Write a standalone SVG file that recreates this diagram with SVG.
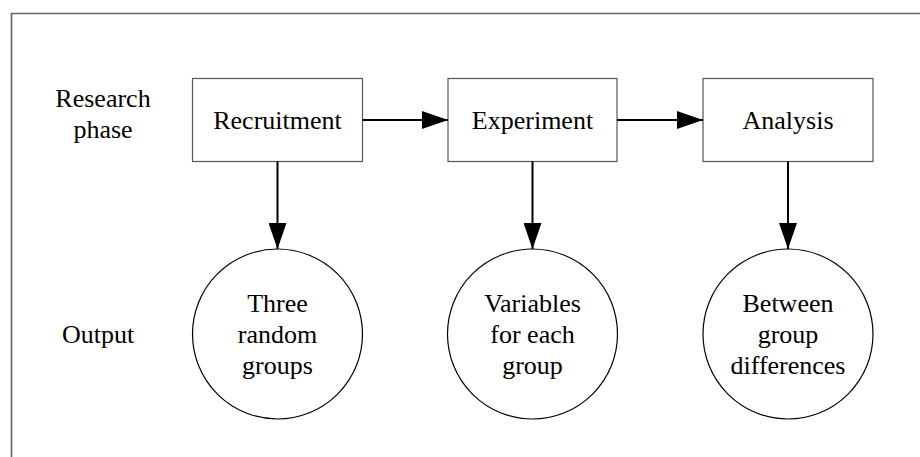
<svg xmlns="http://www.w3.org/2000/svg" width="920" height="457" viewBox="0 0 920 457">
<defs>
<style>
text{font-family:"Liberation Serif","Times New Roman",serif;font-size:26px;fill:#000;text-anchor:middle}
.box{fill:#fff;stroke:#555;stroke-width:1.2}
.circ{fill:#fff;stroke:#000;stroke-width:1.2}
.conn{stroke:#000;stroke-width:2;fill:none}
.frame{stroke:#666;stroke-width:1.6;fill:none}
</style>
<marker id="arr" markerUnits="userSpaceOnUse" markerWidth="26" markerHeight="18" viewBox="0 0 26 18" refX="26" refY="9" orient="auto">
<polygon points="0,0 26,9 0,18" fill="#000"/>
</marker>
</defs>
<rect width="920" height="457" fill="#fff"/>
<path class="frame" d="M11.5,457 V13.5 H920"/>
<g id="labels">
<text x="103" y="107">Research</text>
<text x="103" y="138">phase</text>
<text x="98" y="343">Output</text>
</g>
<g id="recruitment"><rect class="box" x="192.5" y="78.5" width="170" height="83"/><text x="277.5" y="129">Recruitment</text></g>
<g id="experiment"><rect class="box" x="448" y="78.5" width="169" height="83"/><text x="532.5" y="129">Experiment</text></g>
<g id="analysis"><rect class="box" x="703" y="78.5" width="170" height="83"/><text x="788" y="129">Analysis</text></g>
<g id="out1"><circle class="circ" cx="277.5" cy="334" r="85"/><text x="277.5" y="312">Three</text><text x="277.5" y="343">random</text><text x="277.5" y="374">groups</text></g>
<g id="out2"><circle class="circ" cx="532.5" cy="334" r="85"/><text x="532.5" y="312">Variables</text><text x="532.5" y="343">for each</text><text x="532.5" y="374">group</text></g>
<g id="out3"><circle class="circ" cx="788" cy="334" r="85"/><text x="788" y="312">Between</text><text x="788" y="343">group</text><text x="788" y="374">differences</text></g>
<g id="connectors">
<line class="conn" x1="362.5" y1="120" x2="448" y2="120" marker-end="url(#arr)"/>
<line class="conn" x1="617" y1="120" x2="703" y2="120" marker-end="url(#arr)"/>
<line class="conn" x1="277.5" y1="161.5" x2="277.5" y2="249" marker-end="url(#arr)"/>
<line class="conn" x1="532.5" y1="161.5" x2="532.5" y2="249" marker-end="url(#arr)"/>
<line class="conn" x1="788" y1="161.5" x2="788" y2="249" marker-end="url(#arr)"/>
</g>
</svg>
